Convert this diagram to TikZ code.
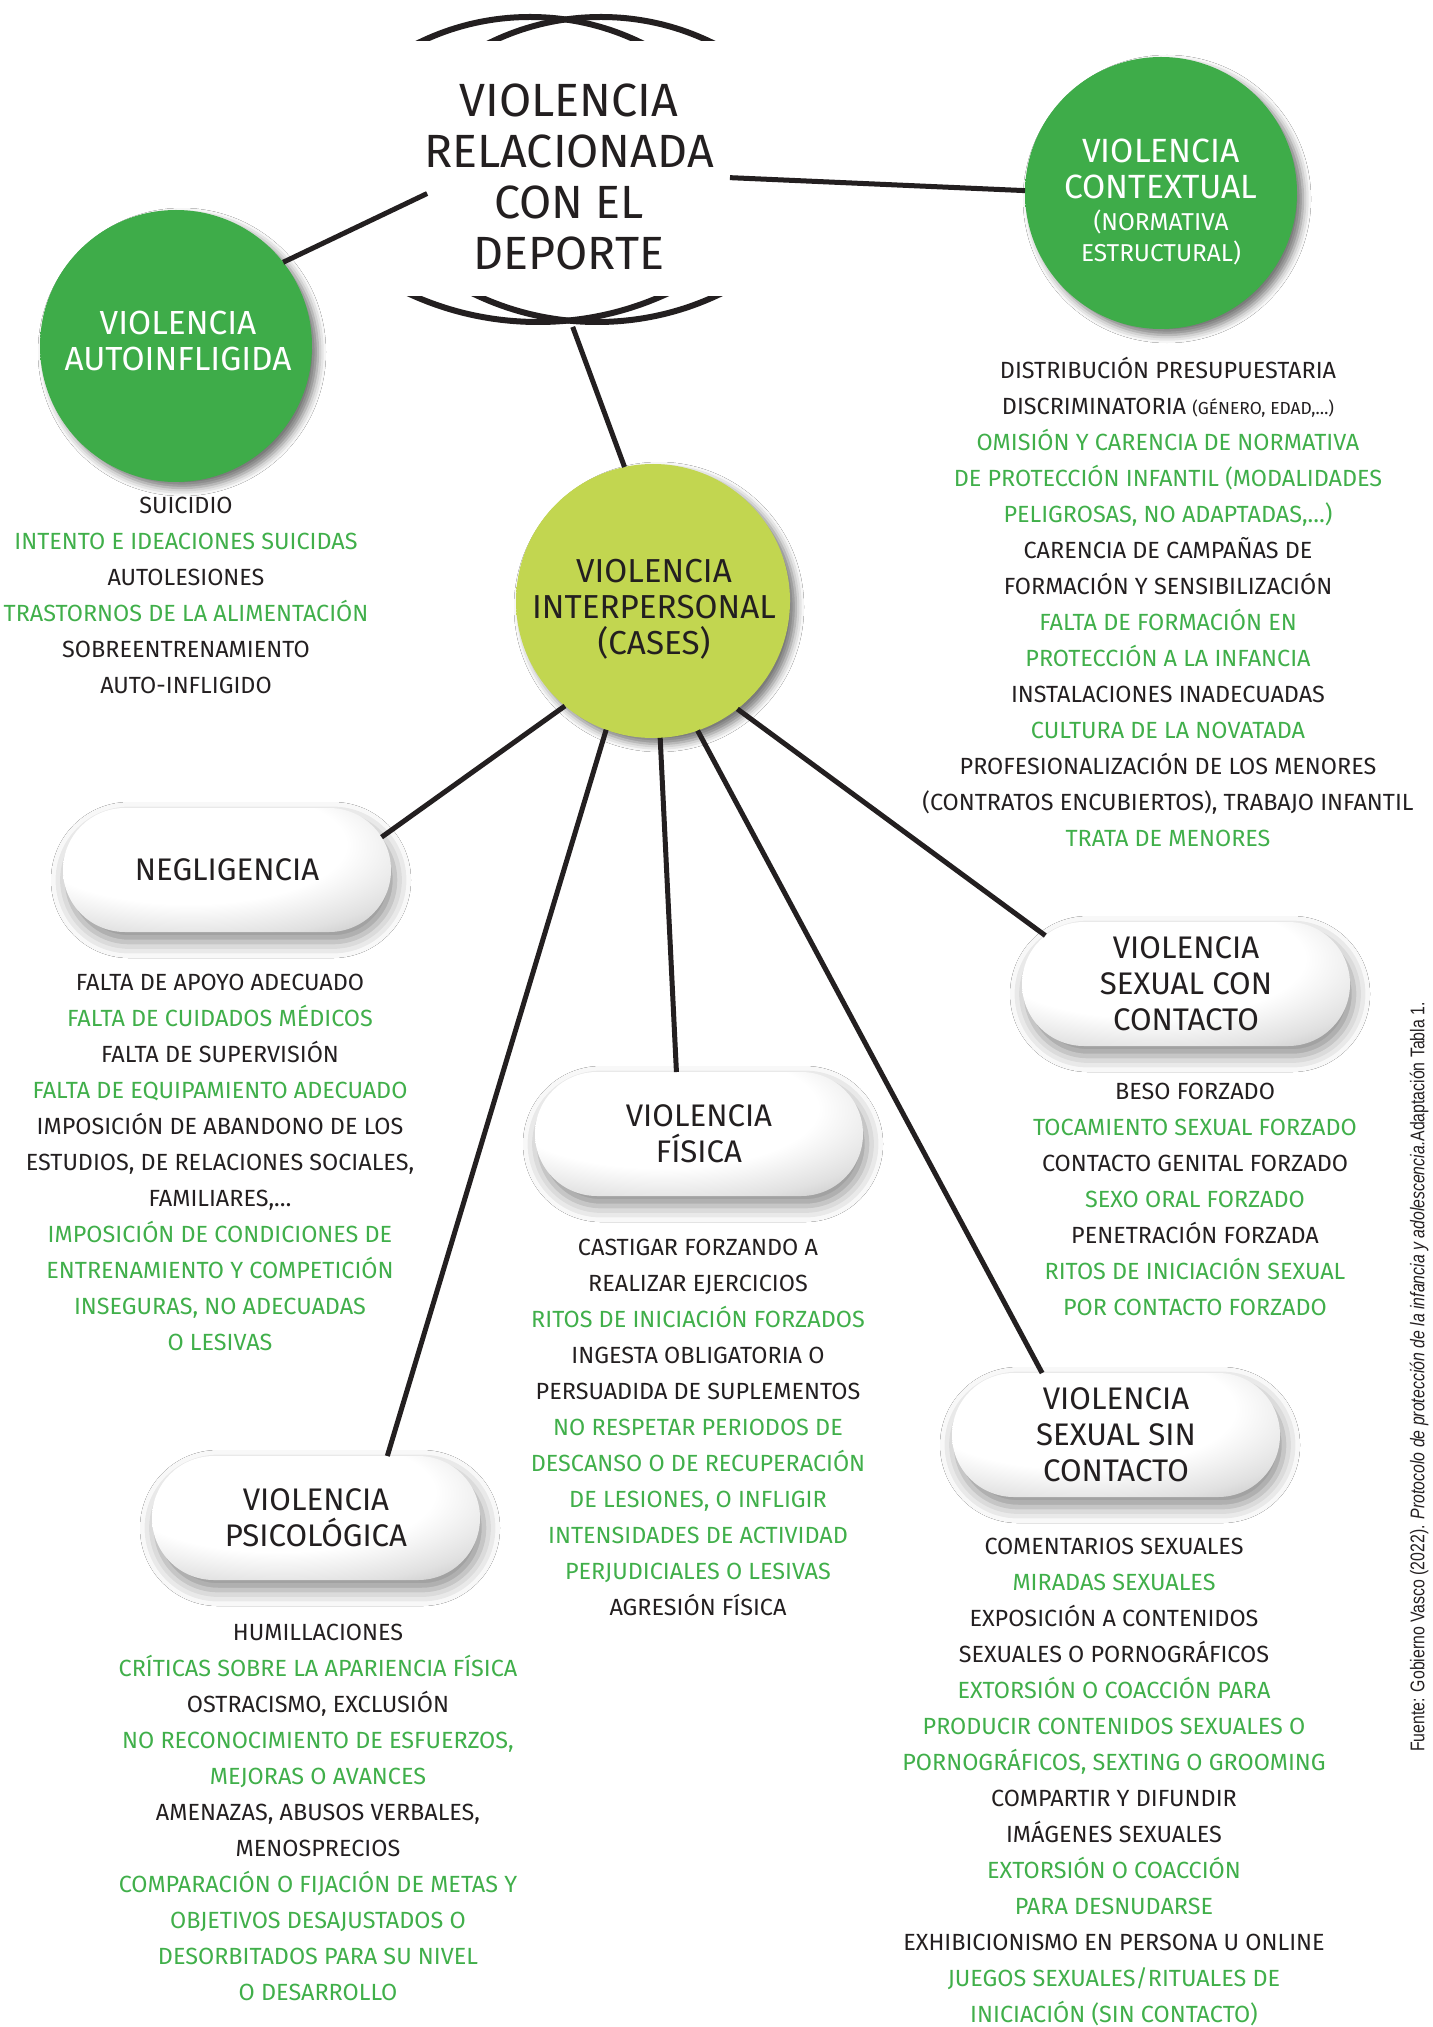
\documentclass[tikz,border=0pt]{standalone}
\usepackage{fontspec}
\setmainfont{Fira Sans}
\newfontfamily\srcfont{Liberation Sans}[FakeStretch=0.8]
\usetikzlibrary{shapes.misc,shadows.blur}
\definecolor{cgreen}{RGB}{62,172,73}
\definecolor{cgreendk}{RGB}{30,100,40}
\definecolor{clime}{RGB}{194,214,80}
\definecolor{climedk}{RGB}{125,140,40}
\definecolor{tgreen}{RGB}{64,175,74}
\definecolor{ink}{RGB}{35,31,32}
\pgfdeclareradialshading{greenball}{\pgfpoint{4bp}{-6bp}}{color(0bp)=(cgreen);color(42bp)=(cgreen);color(52bp)=(cgreen!80!black);color(60bp)=(cgreendk);color(80bp)=(cgreendk)}
\pgfdeclareradialshading{limeball}{\pgfpoint{4bp}{-6bp}}{color(0bp)=(clime);color(42bp)=(clime);color(52bp)=(clime!80!black);color(60bp)=(climedk);color(80bp)=(climedk)}
\pgfdeclareradialshading{pillshade}{\pgfpoint{-8bp}{14bp}}{color(0bp)=(white);color(24bp)=(white);color(36bp)=(black!12);color(48bp)=(black!30);color(60bp)=(black!50);color(70bp)=(black!60);color(90bp)=(black!60)}
\newcommand\grn[1]{\textcolor{tgreen}{#1}}
\tikzset{
  ball/.style={circle, minimum size=136pt, inner sep=0pt, outer sep=0pt,
    blur shadow={shadow xshift=3pt, shadow yshift=-3pt, shadow blur radius=4pt, shadow opacity=55}},
  pillbox/.style={rounded rectangle, minimum width=164pt, minimum height=62pt, inner sep=0pt, outer sep=0pt,
    shading=pillshade, align=center, text=ink, font=\fontsize{15.6}{18}\selectfont,
    blur shadow={shadow xshift=2pt, shadow yshift=-5pt, shadow blur radius=8pt, shadow opacity=45}},
  conn/.style={draw=ink, line width=2.5pt},
  lst/.style={anchor=north, align=center, inner sep=0pt, text=ink, font=\fontsize{11.7}{18}\selectfont},
  lbl/.style={align=center, inner sep=0pt, text=ink},
  arcline/.style={draw=ink, line width=3pt}
}
\begin{document}
\begin{tikzpicture}[x=0.5pt, y=-0.5pt]
\useasboundingbox (0,0) rectangle (1432,2027);
\fill[white] (0,0) rectangle (1432,2027);

% title cloud
\begin{scope}
  \clip (380,0) rectangle (760,41);
  \draw[arcline] (530,270) circle[radius=253];
  \draw[arcline] (601,270) circle[radius=253];
\end{scope}
\begin{scope}
  \clip (380,297) rectangle (760,345);
  \draw[arcline] (538,14) circle[radius=308];
  \draw[arcline] (597,38) circle[radius=284];
\end{scope}
\node[lbl, font=\fontsize{23.3}{25.5}\selectfont] (titlet) at (569,177) {VIOLENCIA\\RELACIONADA\\CON EL\\DEPORTE};
\node[circle, minimum size=152pt, inner sep=0pt, outer sep=0pt] (hub) at (578,175) {};

% circles
\node[ball, shading=greenball] (auto) at (176,346) {};
\node[lbl, text=white, font=\fontsize{16.7}{18}\selectfont] (autot) at (178,341) {VIOLENCIA\\AUTOINFLIGIDA};
\node[ball, shading=greenball] (ctx) at (1161,193) {};
\node[lbl, text=white, font=\fontsize{16.8}{18}\selectfont] (ctxt1) at (1161,169) {VIOLENCIA\\CONTEXTUAL};
\node[lbl, text=white, font=\fontsize{12.2}{15.5}\selectfont] (ctxt2) at (1161,237) {(NORMATIVA\\ESTRUCTURAL)};
\node[ball, shading=limeball, minimum size=137pt] (inter) at (653,601) {};
\node[lbl, font=\fontsize{16.6}{18}\selectfont] (intert) at (654,609) {VIOLENCIA\\INTERPERSONAL\\(CASES)};

% pills
\node[pillbox] (neg) at (227,870) {NEGLIGENCIA};
\node[pillbox] (fis) at (699,1134) {VIOLENCIA\\FÍSICA};
\node[pillbox] (psi) at (316,1518) {VIOLENCIA\\PSICOLÓGICA};
\node[pillbox] (con) at (1186,984) {VIOLENCIA\\SEXUAL CON\\CONTACTO};
\node[pillbox] (sin) at (1116,1435) {VIOLENCIA\\SEXUAL SIN\\CONTACTO};

% connectors
\draw[conn] (auto.38) -- (hub.187);
\draw[conn] (hub.359) -- (ctx.179);
\draw[conn] (hub.268) -- (inter.102);
\draw[conn] (inter.230) -- (neg.12);
\draw[conn] (inter.273) -- (fis.110);
\draw[conn] (inter.250) -- (psi.41);
\draw[conn] (inter.308) -- (con.161);
\draw[conn] (inter.289) -- (sin.140);

% lists
\node[lst] (autol) at (186,488) {\strut SUICIDIO\\\grn{INTENTO E IDEACIONES SUICIDAS}\\AUTOLESIONES\\\grn{TRASTORNOS DE LA ALIMENTACIÓN}\\SOBREENTRENAMIENTO\\AUTO-INFLIGIDO};
\node[lst] (ctxl) at (1168,353) {\strut DISTRIBUCIÓN PRESUPUESTARIA\\DISCRIMINATORIA {\fontsize{8.7}{18}\selectfont(GÉNERO, EDAD,…)}\\\grn{OMISIÓN Y CARENCIA DE NORMATIVA}\\\grn{DE PROTECCIÓN INFANTIL (MODALIDADES}\\\grn{PELIGROSAS, NO ADAPTADAS,…)}\\CARENCIA DE CAMPAÑAS DE\\FORMACIÓN Y SENSIBILIZACIÓN\\\grn{FALTA DE FORMACIÓN EN}\\\grn{PROTECCIÓN A LA INFANCIA}\\INSTALACIONES INADECUADAS\\\grn{CULTURA DE LA NOVATADA}\\PROFESIONALIZACIÓN DE LOS MENORES\\(CONTRATOS ENCUBIERTOS), TRABAJO INFANTIL\\\grn{TRATA DE MENORES}};
\node[lst] (negl) at (220,965) {\strut FALTA DE APOYO ADECUADO\\\grn{FALTA DE CUIDADOS MÉDICOS}\\FALTA DE SUPERVISIÓN\\\grn{FALTA DE EQUIPAMIENTO ADECUADO}\\IMPOSICIÓN DE ABANDONO DE LOS\\ESTUDIOS, DE RELACIONES SOCIALES,\\FAMILIARES,…\\\grn{IMPOSICIÓN DE CONDICIONES DE}\\\grn{ENTRENAMIENTO Y COMPETICIÓN}\\\grn{INSEGURAS, NO ADECUADAS}\\\grn{O LESIVAS}};
\node[lst] (fisl) at (698,1230) {\strut CASTIGAR FORZANDO A\\REALIZAR EJERCICIOS\\\grn{RITOS DE INICIACIÓN FORZADOS}\\INGESTA OBLIGATORIA O\\PERSUADIDA DE SUPLEMENTOS\\\grn{NO RESPETAR PERIODOS DE}\\\grn{DESCANSO O DE RECUPERACIÓN}\\\grn{DE LESIONES, O INFLIGIR}\\\grn{INTENSIDADES DE ACTIVIDAD}\\\grn{PERJUDICIALES O LESIVAS}\\AGRESIÓN FÍSICA};
\node[lst] (psil) at (318,1615) {\strut HUMILLACIONES\\\grn{CRÍTICAS SOBRE LA APARIENCIA FÍSICA}\\OSTRACISMO, EXCLUSIÓN\\\grn{NO RECONOCIMIENTO DE ESFUERZOS,}\\\grn{MEJORAS O AVANCES}\\AMENAZAS, ABUSOS VERBALES,\\MENOSPRECIOS\\\grn{COMPARACIÓN O FIJACIÓN DE METAS Y}\\\grn{OBJETIVOS DESAJUSTADOS O}\\\grn{DESORBITADOS PARA SU NIVEL}\\\grn{O DESARROLLO}};
\node[lst] (conl) at (1195,1074) {\strut BESO FORZADO\\\grn{TOCAMIENTO SEXUAL FORZADO}\\CONTACTO GENITAL FORZADO\\\grn{SEXO ORAL FORZADO}\\PENETRACIÓN FORZADA\\\grn{RITOS DE INICIACIÓN SEXUAL}\\\grn{POR CONTACTO FORZADO}};
\node[lst] (sinl) at (1114,1529) {\strut COMENTARIOS SEXUALES\\\grn{MIRADAS SEXUALES}\\EXPOSICIÓN A CONTENIDOS\\SEXUALES O PORNOGRÁFICOS\\\grn{EXTORSIÓN O COACCIÓN PARA}\\\grn{PRODUCIR CONTENIDOS SEXUALES O}\\\grn{PORNOGRÁFICOS, SEXTING O GROOMING}\\COMPARTIR Y DIFUNDIR\\IMÁGENES SEXUALES\\\grn{EXTORSIÓN O COACCIÓN}\\\grn{PARA DESNUDARSE}\\EXHIBICIONISMO EN PERSONA U ONLINE\\\grn{JUEGOS SEXUALES/RITUALES DE}\\\grn{INICIACIÓN (SIN CONTACTO)}};

% source
\node[rotate=90, inner sep=0pt, text=ink, font={\srcfont\fontsize{9.9}{11}\selectfont}] (src) at (1419,1377) {Fuente: Gobierno Vasco (2022). \textit{Protocolo de protección de la infancia y adolescencia.}Adaptación Tabla 1.};
\end{tikzpicture}
\end{document}
